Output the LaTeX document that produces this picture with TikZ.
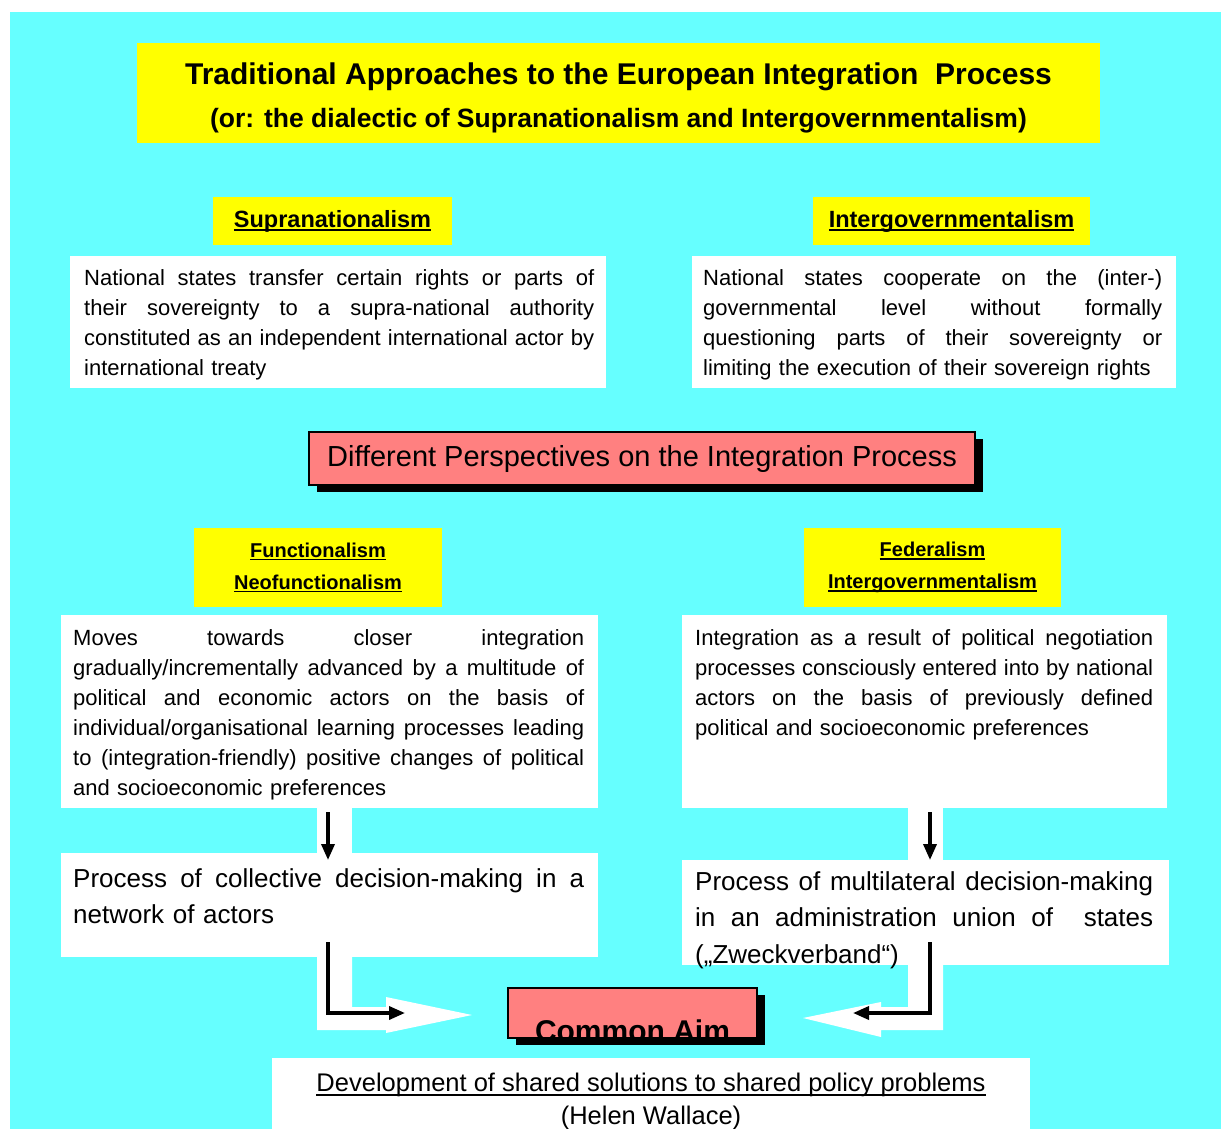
\documentclass[tikz,border=0pt]{standalone}
\usepackage{fontspec}
\setmainfont{Liberation Sans}
\usetikzlibrary{positioning,shadows,arrows.meta}

\definecolor{skycyan}{HTML}{66FFFF}
\definecolor{tagyellow}{HTML}{FFFF00}
\definecolor{aimpink}{HTML}{FF8080}

% underline with a heavy bar, and a fully justified line
\newcommand{\ulbar}[1]{\setbox0\hbox{#1}\rlap{\rule[-0.17em]{\wd0}{0.09em}}\box0}
\newcommand{\jl}[1]{\noindent\hbox to \hsize{\spaceskip=0.28em plus 1fil\relax #1}\par}

\tikzset{
  panel/.style={fill=white, inner sep=0pt, anchor=north west},
  tagbox/.style={fill=tagyellow, inner sep=0pt, font=\bfseries\fontsize{23.5}{28}\selectfont},
  pairbox/.style={fill=tagyellow, inner sep=0pt, align=center, font=\bfseries\fontsize{20}{32}\selectfont},
  bodytext/.style={inner sep=0pt, anchor=base west, font=\fontsize{22}{30}\selectfont},
  proctext/.style={inner sep=0pt, anchor=base west, font=\fontsize{26}{36.5}\selectfont},
  pinkbox/.style={fill=aimpink, draw=black, line width=2.5pt, inner sep=0pt,
    drop shadow={shadow xshift=8pt, shadow yshift=-7pt, fill=black, opacity=1}},
  flow/.style={line width=3.5pt, -{Triangle[length=16pt,width=13pt]}},
}

\begin{document}
\begin{tikzpicture}[x=1pt,y=1pt]
\useasboundingbox (0,0) rectangle (1221,-1129);
\fill[white] (0,0) rectangle (1221,-1129);
\fill[skycyan] (10,-12) rectangle (1221,-1129);

% title
\node[tagbox, minimum width=963, minimum height=100] (title) at (618.5,-93) {};
\node[align=center, inner sep=0pt, font=\bfseries\fontsize{30}{43}\selectfont]
  (titletext) at (618.5,-98)
  {Traditional Approaches to the European Integration~ Process\\
   {\fontsize{26.5}{43}\selectfont (or: the dialectic of Supranationalism and Intergovernmentalism)}};

% supranationalism / intergovernmentalism
\node[tagbox, minimum width=239, minimum height=48] (suphead) at (332.5,-221) {\ulbar{Supranationalism}};
\node[tagbox, minimum width=277, minimum height=48] (inthead) at (951.5,-221) {\ulbar{Intergovernmentalism}};
\node[panel, minimum width=536, minimum height=132] (supbox) at (70,-256) {};
\node[panel, minimum width=484, minimum height=132] (intbox) at (692,-256) {};
\node[bodytext, text width=510] (suptext) at (84,-285) {%
  \jl{National states transfer certain rights or parts of}
  \jl{their sovereignty to a supra-national authority}
  \jl{constituted as an independent international actor by}
  international treaty};
\node[bodytext, text width=459] (inttext) at (703,-285) {%
  \jl{National states cooperate on the (inter-)}
  \jl{governmental level without formally}
  \jl{questioning parts of their sovereignty or}
  limiting the execution of their sovereign rights};

% perspectives
\node[pinkbox, minimum width=666, minimum height=53, font=\fontsize{29}{34}\selectfont]
  (persp) at (642,-458.5) {Different Perspectives on the Integration Process};

% functionalism / federalism
\node[pairbox, minimum width=248, minimum height=79] (funhead) at (318,-567.5)
  {\ulbar{Functionalism}\\\ulbar{Neofunctionalism}};
\node[pairbox, minimum width=257, minimum height=79] (fedhead) at (932.5,-567.5)
  {\ulbar{Federalism}\\\ulbar{Intergovernmentalism}};
\node[panel, minimum width=537, minimum height=193] (funbox) at (61,-615) {};
\node[panel, minimum width=485, minimum height=193] (fedbox) at (682,-615) {};
\node[bodytext, text width=511] (funtext) at (73,-645) {%
  \jl{Moves towards closer integration}
  \jl{gradually/incrementally advanced by a multitude of}
  \jl{political and economic actors on the basis of}
  \jl{individual/organisational learning processes leading}
  \jl{to (integration-friendly) positive changes of political}
  and socioeconomic preferences};
\node[bodytext, text width=458] (fedtext) at (695,-645) {%
  \jl{Integration as a result of political negotiation}
  \jl{processes consciously entered into by national}
  \jl{actors on the basis of previously defined}
  political and socioeconomic preferences};

% white bands behind the arrows
\fill[white] (317,-808) rectangle (352,-853);
\fill[white] (908,-808) rectangle (943,-860);
\fill[white] (317,-957) -- (317,-1030) -- (386,-1030) -- (386,-1033) -- (472,-1015)
  -- (386,-997) -- (386,-1007) -- (352,-1007) -- (352,-957) -- cycle;
\fill[white] (943,-965) -- (943,-1030) -- (881,-1030) -- (881,-1037) -- (803,-1018)
  -- (881,-1002) -- (881,-1007) -- (908,-1007) -- (908,-965) -- cycle;

% decision making
\node[panel, minimum width=537, minimum height=104] (lproc) at (61,-853) {};
\node[panel, minimum width=487, minimum height=105] (rproc) at (682,-860) {};
\node[proctext, text width=511] (lproctext) at (73,-887) {%
  \jl{Process of collective decision-making in a}
  network of actors};
\node[proctext, text width=458] (rproctext) at (695,-890) {%
  \jl{Process of multilateral decision-making}
  \jl{in an administration union of\ \ states}
  („Zweckverband“)};

% common aim
\node[pinkbox, minimum width=249, minimum height=50] (aim) at (632.5,-1013) {};
\node[font=\bfseries\fontsize{30}{34}\selectfont, anchor=base, inner sep=0pt]
  (aimlabel) at (632.5,-1041) {Common Aim};
\node[panel, minimum width=758, minimum height=90] (bottom) at (272,-1058) {};
\node[font=\fontsize{25.5}{33}\selectfont, align=center, anchor=north, inner sep=0pt]
  (wallace) at (651,-1073)
  {\ulbar{Development of shared solutions to shared policy problems}\\(Helen Wallace)};

% arrows
\coordinate (lcol) at (328,0);
\coordinate (rcol) at (930,0);
\coordinate (lbend) at (328,-1013);
\coordinate (lend) at (405,-1013);
\coordinate (rbend) at (930,-1013);
\coordinate (rend) at (853,-1013);
\draw[flow] ([yshift=-4pt]funbox.south -| lcol) -- ([yshift=-7pt]lproc.north -| lcol);
\draw[flow] ([yshift=-4pt]fedbox.south -| rcol) -- (rproc.north -| rcol);
\draw[flow] ([yshift=15pt]lproc.south -| lcol) -- (lbend) -- (lend);
\draw[flow] ([yshift=23pt]rproc.south -| rcol) -- (rbend) -- (rend);
\end{tikzpicture}
\end{document}
